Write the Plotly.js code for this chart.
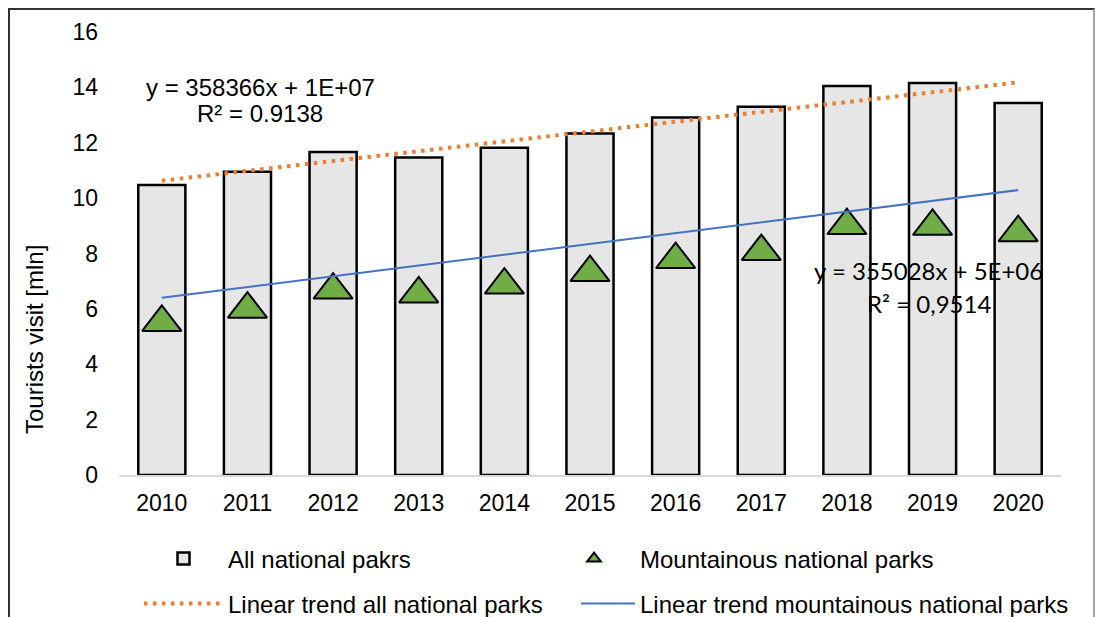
<!DOCTYPE html>
<html>
<head>
<meta charset="utf-8">
<script src="https://cdn.plot.ly/plotly-3.0.1.min.js"></script>
<style>
  html, body { margin:0; padding:0; background:#fff; width:1096px; height:617px; overflow:hidden; }
  #frame { position:absolute; left:8px; top:8px; width:1087px; height:700px; box-sizing:border-box;
           border-left:2px solid #333; border-top:2px solid #333; border-right:2px solid #a6a6a6; }
  #chart { position:absolute; left:0; top:0; width:1096px; height:617px; }
</style>
</head>
<body>
<div id="frame"></div>
<div id="chart"></div>
<script>
// Categories (years)
const years = ['2010','2011','2012','2013','2014','2015','2016','2017','2018','2019','2020'];
// All national parks – tourists visit [mln]
const allParks = [10.47, 10.95, 11.67, 11.47, 11.82, 12.33, 12.91, 13.30, 14.05, 14.16, 13.44];
// Mountainous national parks – tourists visit [mln]
const mountainParks = [5.51, 5.99, 6.68, 6.54, 6.86, 7.31, 7.78, 8.07, 9.01, 8.98, 8.75];
// Linear trend lines (end points as drawn)
const trendYears = ['2010', '2020'];
const trendAll = [10.63, 14.18];
const trendMountain = [6.40, 10.29];
// Labels
const yTicks = [0, 2, 4, 6, 8, 10, 12, 14, 16];
const eqAll = ['y = 358366x + 1E+07', 'R² = 0.9138'];
const eqMountain = ['y = 355028x + 5E+06', 'R² = 0,9514'];

const ARIAL = 'Liberation Sans, Arial, sans-serif';

const traces = [
  {
    type: 'bar', x: years, y: allParks, name: 'All national pakrs',
    marker: { color: '#e7e6e6', line: { color: '#000', width: 2.5 } },
    legend: 'legend'
  },
  {
    type: 'scatter', mode: 'markers', x: years, y: mountainParks, name: 'Mountainous national parks',
    marker: { symbol: 'triangle-up', size: 34, color: '#70ad47', line: { color: '#000', width: 2 } },
    legend: 'legend2'
  },
  {
    type: 'scatter', mode: 'lines', x: trendYears, y: trendAll, name: 'Linear trend all national parks',
    line: { color: '#ed7d31', width: 4, dash: '3.5px,5.5px' },
    legend: 'legend3'
  },
  {
    type: 'scatter', mode: 'lines', x: trendYears, y: trendMountain, name: 'Linear trend mountainous national parks',
    line: { color: '#4472c4', width: 2 },
    legend: 'legend4'
  }
];

const plotL = 119, plotT = 32, plotW = 942, plotH = 443;
const px = v => (v - plotL) / plotW;
const py = v => (plotT + plotH - v) / plotH;

function leg(left, centerY, itemW, extra) {
  return Object.assign({
    orientation: 'h', xanchor: 'left', yanchor: 'middle',
    x: px(left), y: py(centerY),
    font: { family: ARIAL, size: 24, color: '#000' },
    bgcolor: 'rgba(0,0,0,0)', borderwidth: 0,
    itemwidth: itemW, itemclick: false, itemdoubleclick: false
  }, extra || {});
}

const layout = {
  width: 1096, height: 617,
  margin: { l: plotL, r: 1096 - plotL - plotW, t: plotT, b: 617 - plotT - plotH, pad: 0, autoexpand: false },
  paper_bgcolor: 'rgba(0,0,0,0)', plot_bgcolor: 'rgba(0,0,0,0)',
  font: { family: ARIAL, size: 23, color: '#000' },
  bargap: 0.45,
  showlegend: true,
  xaxis: {
    type: 'category', range: [-0.5, years.length - 0.5],
    showline: true, linecolor: '#d9d9d9', linewidth: 2,
    showgrid: false, zeroline: false, ticks: '', ticklabelstandoff: 6,
    tickfont: { family: ARIAL, size: 23, color: '#000' }
  },
  yaxis: {
    range: [0, 16], tickvals: yTicks, showline: false, showgrid: false, zeroline: false,
    ticks: '', ticklabelstandoff: 20,
    tickfont: { family: ARIAL, size: 23, color: '#000' }
  },
  legend: leg(139, 559, 79),
  legend2: leg(548, 559, 82, { itemsizing: 'constant' }),
  legend3: leg(139, 604, 79),
  legend4: leg(576, 604, 54),
  annotations: [
    { xref: 'paper', yref: 'paper', x: px(34), y: py(340), text: 'Tourists visit [mln]', textangle: -90,
      showarrow: false, font: { family: ARIAL, size: 24, color: '#000' }, xanchor: 'center', yanchor: 'middle' },
    { xref: 'paper', yref: 'paper', x: px(260), y: py(87), text: eqAll[0], showarrow: false,
      font: { family: ARIAL, size: 24, color: '#000' }, xanchor: 'center', yanchor: 'middle' },
    { xref: 'paper', yref: 'paper', x: px(260), y: py(113), text: eqAll[1], showarrow: false,
      font: { family: ARIAL, size: 24, color: '#000' }, xanchor: 'center', yanchor: 'middle' },
    { xref: 'paper', yref: 'paper', x: px(928), y: py(270), text: eqMountain[0], showarrow: false,
      font: { family: 'Lato, sans-serif', size: 24, color: '#000' }, xanchor: 'center', yanchor: 'middle' },
    { xref: 'paper', yref: 'paper', x: px(929), y: py(303), text: eqMountain[1], showarrow: false,
      font: { family: 'Lato, sans-serif', size: 24, color: '#000' }, xanchor: 'center', yanchor: 'middle' }
  ]
};

Plotly.newPlot('chart', traces, layout, { staticPlot: true, displayModeBar: false });
</script>
</body>
</html>
